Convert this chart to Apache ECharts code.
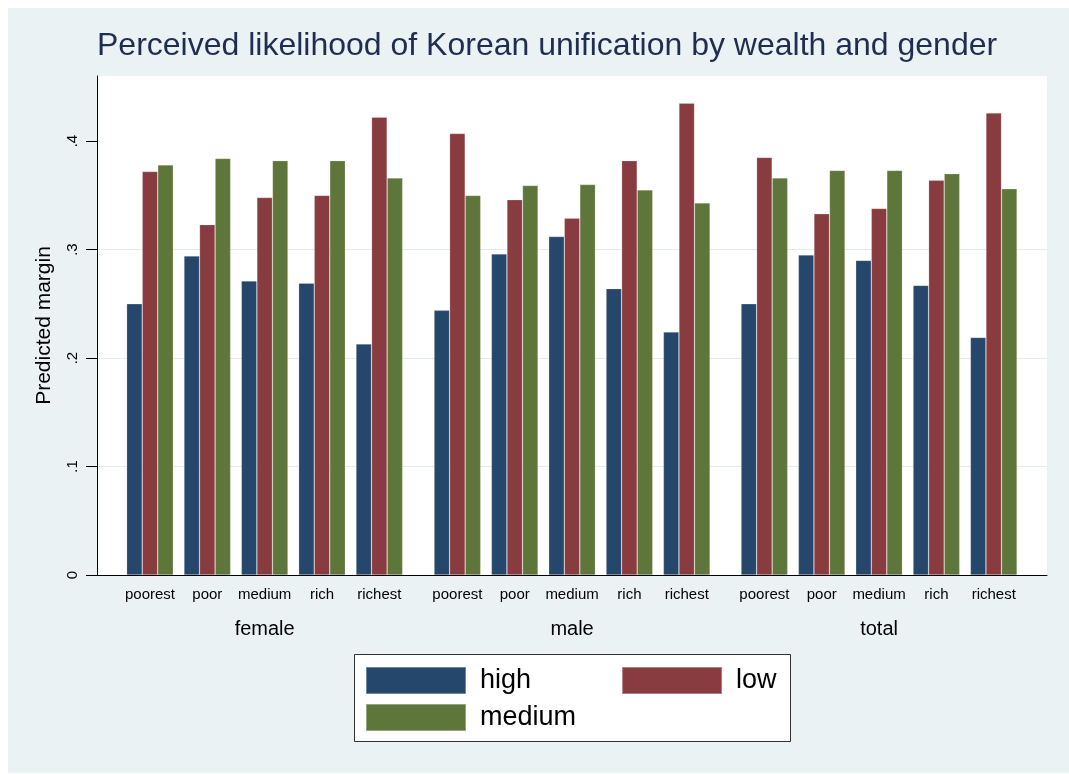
<!DOCTYPE html>
<html>
<head>
<meta charset="utf-8">
<script src="https://cdn.jsdelivr.net/npm/echarts@6/dist/echarts.min.js"></script>
<style>
html,body{margin:0;padding:0;background:#fff;}
#chart{width:1069px;height:774px;}
</style>
</head>
<body>
<div id="chart"></div>
<script>
// ---- data ----
const wealthLevels = ['poorest', 'poor', 'medium', 'rich', 'richest'];
const genderGroups = ['female', 'male', 'total'];
const seriesNames = ['high', 'low', 'medium'];
const yTickValues = [0, 0.1, 0.2, 0.3, 0.4];

const highFemale = [0.250, 0.294, 0.271, 0.269, 0.213];
const lowFemale = [0.372, 0.323, 0.348, 0.350, 0.422];
const mediumFemale = [0.378, 0.384, 0.382, 0.382, 0.366];

const highMale = [0.244, 0.296, 0.312, 0.264, 0.224];
const lowMale = [0.407, 0.346, 0.329, 0.382, 0.435];
const mediumMale = [0.350, 0.359, 0.360, 0.355, 0.343];

const highTotal = [0.250, 0.295, 0.290, 0.267, 0.219];
const lowTotal = [0.385, 0.333, 0.338, 0.364, 0.426];
const mediumTotal = [0.366, 0.373, 0.373, 0.370, 0.356];

const groupData = [
  [highFemale, lowFemale, mediumFemale],
  [highMale, lowMale, mediumMale],
  [highTotal, lowTotal, mediumTotal]
];

// ---- style / layout ----
const colors = ['#25476b', '#893c3f', '#5e763a'];
const FONT = '"Liberation Sans", Arial, Helvetica, sans-serif';
const plotTop = 76, plotHeight = 499, yMax = 0.46;
const groupLefts = [121.3, 428.7, 735.7];
const groupWidth = 286.7;

const grids = [{ left: 97, top: plotTop, width: 950, height: plotHeight, show: true, backgroundColor: '#ffffff', borderWidth: 0, z: 0 }];
const xAxes = [{
  gridIndex: 0, type: 'value', min: 0, max: 1,
  axisLine: { show: true, lineStyle: { color: '#000', width: 1 } },
  axisTick: { show: false }, axisLabel: { show: false }, splitLine: { show: false }, z: 5
}];
const yAxes = [{
  gridIndex: 0, type: 'value', min: 0, max: yMax,
  name: 'Predicted margin', nameLocation: 'middle', nameGap: 42,
  nameTextStyle: { fontFamily: FONT, fontSize: 21, color: '#000' },
  axisLine: { show: true, lineStyle: { color: '#000', width: 1 } },
  axisTick: { show: true, length: 11, customValues: yTickValues, lineStyle: { color: '#000' } },
  axisLabel: {
    customValues: yTickValues, rotate: 90, margin: 17,
    fontFamily: FONT, fontSize: 15, color: '#000',
    formatter: v => v === 0 ? '0' : String(Math.round(v * 10) / 10).replace(/^0/, '')
  },
  splitLine: { show: true, showMinLine: false, showMaxLine: false, lineStyle: { color: '#e3ebee', width: 1 } }
}];
const series = [];

genderGroups.forEach((g, i) => {
  const gi = i + 1;
  grids.push({ left: groupLefts[i], top: plotTop, width: groupWidth, height: plotHeight, show: false });
  xAxes.push({
    gridIndex: gi, type: 'category', data: wealthLevels,
    name: g, nameLocation: 'middle', nameGap: 44,
    nameTextStyle: { fontFamily: FONT, fontSize: 20, color: '#000' },
    axisLine: { show: false }, axisTick: { show: false },
    axisLabel: { fontFamily: FONT, fontSize: 15, color: '#000', margin: 12, interval: 0 }
  });
  yAxes.push({ gridIndex: gi, type: 'value', min: 0, max: yMax, show: false, splitLine: { show: false } });
  seriesNames.forEach((s, k) => {
    series.push({
      name: s, type: 'bar', xAxisIndex: gi, yAxisIndex: gi,
      data: groupData[i][k],
      barGap: '0%', barCategoryGap: '18.6%',
      itemStyle: { color: colors[k], borderColor: 'rgba(255,255,255,0.35)', borderWidth: 0.6 },
      emphasis: { disabled: true },
      animation: false
    });
  });
});

const legendCommon = {
  orient: 'horizontal', padding: 0, itemWidth: 100, itemHeight: 27, icon: 'rect',
  selectedMode: false, z: 10,
  textStyle: { fontFamily: FONT, fontSize: 27, color: '#000', lineHeight: 27, padding: [0, 0, 0, 9] }
};

const option = {
  animation: false,
  color: colors,
  title: {
    text: 'Perceived likelihood of Korean unification by wealth and gender',
    left: 97, top: 30, padding: 0,
    textStyle: { fontFamily: FONT, fontSize: 32, fontWeight: 'normal', color: '#1f2d52' }
  },
  graphic: [
    { type: 'rect', z: -10, silent: true, shape: { x: 8, y: 8, width: 1061, height: 765 }, style: { fill: '#eaf2f3' } },
    { type: 'rect', z: 1, silent: true, shape: { x: 354.5, y: 654.5, width: 436, height: 87 }, style: { fill: '#ffffff', stroke: '#333333', lineWidth: 1 } }
  ],
  legend: [
    Object.assign({}, legendCommon, { data: ['high', 'low'], left: 365, top: 666, itemGap: 90 }),
    Object.assign({}, legendCommon, { data: ['medium'], left: 365, top: 703 })
  ],
  grid: grids,
  xAxis: xAxes,
  yAxis: yAxes,
  series: series
};

const chart = echarts.init(document.getElementById('chart'), null, { renderer: 'canvas' });
chart.setOption(option);
</script>
</body>
</html>
